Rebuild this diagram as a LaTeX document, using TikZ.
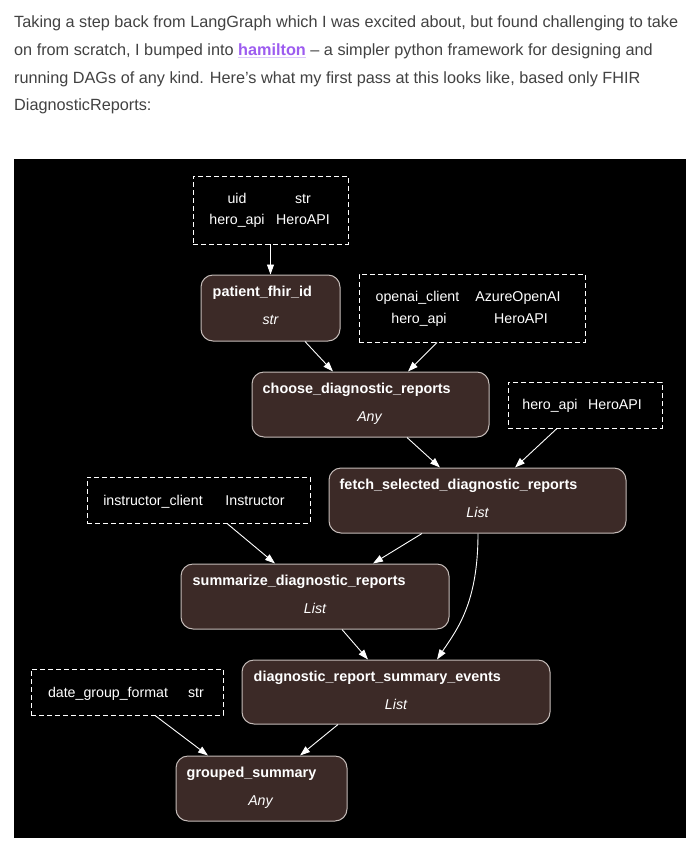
\documentclass[tikz,border=0pt]{standalone}
\usepackage{fontspec}
\setmainfont{Liberation Sans}
\usetikzlibrary{arrows.meta}
\definecolor{paratext}{HTML}{424242}
\definecolor{linkpurple}{HTML}{9D5CF0}
\definecolor{linkline}{HTML}{DCC8FA}
\definecolor{fnfill}{HTML}{3C2A27}
\definecolor{fnline}{HTML}{C4BBB8}
\begin{document}
\begin{tikzpicture}[x=1pt,y=-1pt]
\tikzstyle{every node}+=[inner sep=0pt]
\tikzstyle{para}=[anchor=base west, text=paratext, font=\fontsize{16.25}{20}\selectfont]
\tikzstyle{fn}=[draw=fnline, fill=fnfill, rounded corners=12pt, line width=1pt]
\tikzstyle{inp}=[draw=white, dash pattern=on 5pt off 3pt, line width=0.9pt]
\tikzstyle{lbl}=[anchor=base, text=white, font=\fontsize{14.2}{17}\selectfont]
\tikzstyle{fntitle}=[anchor=base west, text=white, font=\fontsize{14.4}{17}\selectfont\bfseries]
\tikzstyle{fntype}=[anchor=base, text=white, font=\fontsize{14.2}{17}\selectfont\itshape]
\tikzstyle{edge}=[white, line width=0.9pt, -{Triangle[width=7pt,length=10pt]}]
\useasboundingbox (0,0) rectangle (697,854);
\fill [white] (0,0) rectangle (697,854);
% text above the graph
\node [para] (line1) at (14,27) {Taking a step back from LangGraph which I was excited about, but found challenging to take};
\node [para] (line2) at (14,55) {on from scratch, I bumped into {\setbox0=\hbox{\bfseries hamilton}\rlap{\color{linkline}\rule[-3pt]{\wd0}{1.4pt}}\textcolor{linkpurple}{\box0}} -- a simpler python framework for designing and};
\node [para] (line3) at (14,83) {running DAGs of any kind. Here's what my first pass at this looks like, based only FHIR};
\node [para] (line4) at (14,110) {DiagnosticReports:};
\fill [black] (14,159) rectangle (686,838);
% inputs
\node [inp, minimum width=155pt, minimum height=68pt] (in1) at (270.5,210) {};
\node [lbl] (in1a) at (237,203) {uid};
\node [lbl] (in1b) at (303,203) {str};
\node [lbl] (in1c) at (237,224) {hero\_api};
\node [lbl] (in1d) at (303,224) {HeroAPI};
\node [inp, minimum width=226pt, minimum height=68pt] (in2) at (472,308) {};
\node [lbl] (in2a) at (417.5,301) {openai\_client};
\node [lbl] (in2b) at (518,301) {AzureOpenAI};
\node [lbl] (in2c) at (419,323) {hero\_api};
\node [lbl] (in2d) at (521,323) {HeroAPI};
\node [inp, minimum width=154pt, minimum height=46pt] (in3) at (585,405) {};
\node [lbl] (in3a) at (550,409) {hero\_api};
\node [lbl] (in3b) at (615,409) {HeroAPI};
\node [inp, minimum width=223pt, minimum height=46pt] (in4) at (198.5,500) {};
\node [lbl] (in4a) at (153,505) {instructor\_client};
\node [lbl] (in4b) at (255,505) {Instructor};
\node [inp, minimum width=192pt, minimum height=46pt] (in5) at (127,692) {};
\node [lbl] (in5a) at (108,697) {date\_group\_format};
\node [lbl] (in5b) at (196,697) {str};
% functions
\node [fn, minimum width=139pt, minimum height=66pt] (pfi) at (270.5,308) {};
\node [fntitle] (pfit) at ([shift={(12,22)}]pfi.north west) {patient\_fhir\_id};
\node [fntype] (pfiy) at ([shift={(0,50)}]pfi.north) {str};
\node [fn, minimum width=237pt, minimum height=65pt] (cdr) at (370.5,404.5) {};
\node [fntitle] (cdrt) at ([shift={(11,22)}]cdr.north west) {choose\_diagnostic\_reports};
\node [fntype] (cdry) at ([shift={(-1,50)}]cdr.north) {Any};
\node [fn, minimum width=297pt, minimum height=65pt] (fsd) at (477.5,500.5) {};
\node [fntitle] (fsdt) at ([shift={(11,22)}]fsd.north west) {fetch\_selected\_diagnostic\_reports};
\node [fntype] (fsdy) at ([shift={(0,50)}]fsd.north) {List};
\node [fn, minimum width=268pt, minimum height=65pt] (sdr) at (315,596.5) {};
\node [fntitle] (sdrt) at ([shift={(12,22)}]sdr.north west) {summarize\_diagnostic\_reports};
\node [fntype] (sdry) at ([shift={(0,50)}]sdr.north) {List};
\node [fn, minimum width=308pt, minimum height=64pt] (drs) at (396,692) {};
\node [fntitle] (drst) at ([shift={(12,22)}]drs.north west) {diagnostic\_report\_summary\_events};
\node [fntype] (drsy) at ([shift={(0,50)}]drs.north) {List};
\node [fn, minimum width=171pt, minimum height=65pt] (grs) at (261.5,788.5) {};
\node [fntitle] (grst) at ([shift={(11,22)}]grs.north west) {grouped\_summary};
\node [fntype] (grsy) at ([shift={(-1,50)}]grs.north) {Any};
% edges
\draw [edge] (in1.south) -- (pfi.north);
\draw [edge] ([xshift=34.5pt]pfi.south) -- ([xshift=-37.5pt]cdr.north);
\draw [edge] ([xshift=-35pt]in2.south) -- ([xshift=37.5pt]cdr.north);
\draw [edge] ([xshift=36.5pt]cdr.south) -- ([xshift=-37.5pt]fsd.north);
\draw [edge] ([xshift=-28pt]in3.south) -- ([xshift=37.5pt]fsd.north);
\draw [edge] ([xshift=28.5pt]in4.south) -- ([xshift=-40pt]sdr.north);
\draw [edge] ([xshift=-55.5pt]fsd.south) -- ([xshift=58pt]sdr.north);
\draw [edge] ([xshift=27pt]sdr.south) -- ([xshift=-28pt]drs.north);
\draw [edge] ([xshift=0.5pt]fsd.south) .. controls +(0,70) and +(20,-30) .. ([xshift=41pt]drs.north);
\draw [edge] ([xshift=-58pt]drs.south) -- ([xshift=38.5pt]grs.north);
\draw [edge] ([xshift=28pt]in5.south) -- ([xshift=-53.5pt]grs.north);
\end{tikzpicture}
\end{document}
